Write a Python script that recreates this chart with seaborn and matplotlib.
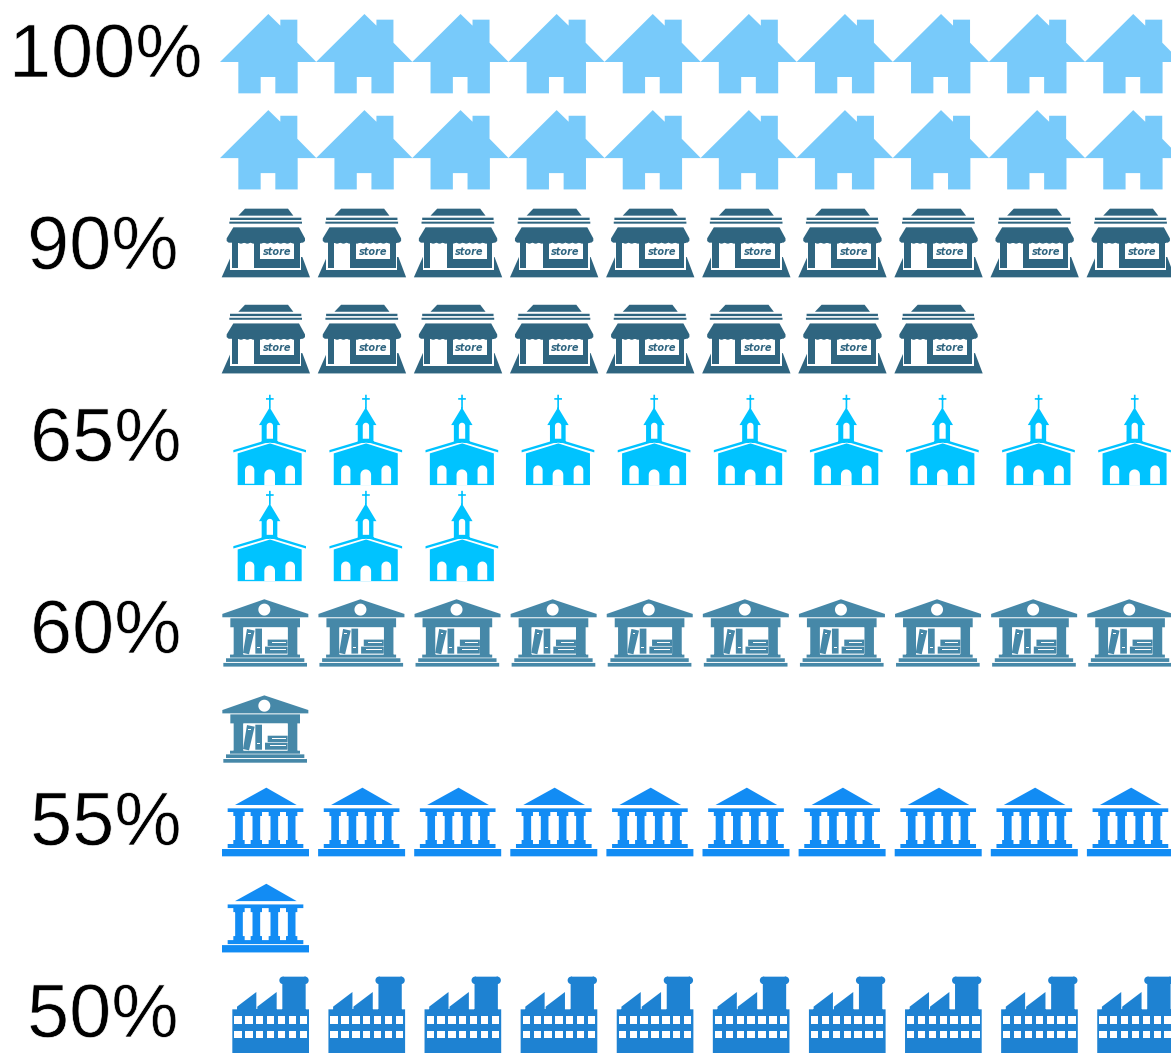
import numpy as np
import pandas as pd
import matplotlib
matplotlib.use("Agg")
import matplotlib.pyplot as plt
import matplotlib.patheffects as pe
from matplotlib.path import Path
from matplotlib.markers import MarkerStyle
import seaborn as sns

# ---------- data ----------
percent_labels = ["100%", "90%", "65%", "60%", "55%", "50%"]
icon_names = ["house", "store", "church", "library", "bank", "factory"]
icon_counts = [20, 18, 13, 11, 11, 10]
icon_colors = ["#78CAFA", "#2F6580", "#00C3FF", "#4688A8", "#128CF4", "#1E82D2"]
per_row = 10

W, H, DPI = 1171, 1053, 100
PITCH = 96.1
X0, Y0 = 268.5, 53.0
R = 60.0
LABEL_CX = [106, 103, 106, 106, 106, 103]


def poly(*pts):
    p = list(pts)
    return Path(p + [p[0]], [Path.MOVETO] + [Path.LINETO] * (len(p) - 1) + [Path.CLOSEPOLY])


def rect(x0, y0, x1, y1):
    return poly((x0, y0), (x1, y0), (x1, y1), (x0, y1))


def ellipse(cx, cy, rx, ry=None, a0=0.0, a1=360.0):
    ry = rx if ry is None else ry
    t = np.radians(np.linspace(a0, a1, 32))
    return poly(*zip(cx + rx * np.cos(t), cy + ry * np.sin(t)))


def arch(x0, x1, ytop, ybot):
    r = (x1 - x0) / 2
    t = np.radians(np.linspace(180, 360, 16))
    pts = list(zip((x0 + x1) / 2 + r * np.cos(t), ytop + r + r * np.sin(t)))
    return poly(*pts, (x1, ybot), (x0, ybot))


def marker(shapes, zx, zy):
    """Shapes are drawn in 3x-zoom coordinates, centred on (zx, zy)."""
    comp = Path.make_compound_path(*shapes)
    v = (comp.vertices - [zx, zy]) / 3.0 * [1, -1]
    anchor = np.array([[R, R], [R, R]])
    return MarkerStyle(Path(np.vstack([anchor, v]),
                            np.concatenate([[Path.MOVETO, Path.LINETO], comp.codes])))


WHITE = "#FFFFFF"
M = "main"

house = [(M, [poly((160, 27), (196, 62), (196, 44), (247, 44), (247, 113), (304, 171), (248, 171),
                   (248, 265), (181, 265), (181, 216), (137, 216), (137, 265), (70, 265), (70, 171), (15, 171))])]

scallops = [ellipse(x, 707, 10, 9) for x in
            (60, 78, 97, 116, 137, 157, 177, 197, 217, 237, 250)]
store = [
    (M, [poly((47, 756), (262, 756), (285, 817), (20, 817))]),
    (WHITE, [rect(46, 745, 259, 794)]),
    (M, [rect(50, 705, 254, 790)]),
    (WHITE, [rect(69, 708, 118, 790), rect(136, 708, 238, 762)]),
    (M, [poly((90, 611), (219, 611), (235, 632), (70, 632)),
         rect(45, 638, 259, 645), rect(43, 650, 261, 656),
         poly((55, 667), (252, 667), (270, 700), (270, 708), (264, 713), (41, 713), (35, 708), (35, 700)),
         *scallops]),
]

church = [
    (M, [rect(162, 14, 167, 55), rect(153, 24, 176, 29),
         poly((164, 52), (196, 105), (187, 105), (187, 158), (140, 158), (140, 105), (132, 105)),
         poly((55, 180), (165, 147), (273, 180), (273, 187), (165, 155), (55, 187)),
         poly((68, 190), (165, 160), (260, 190), (260, 285), (68, 285))]),
    (WHITE, [arch(155, 174, 98, 146), arch(90, 118, 226, 281), arch(211, 240, 226, 281),
             arch(148, 180, 238, 285)]),
]

library = [
    (M, [poly((148, 628), (280, 672), (280, 682), (22, 682), (22, 672)),
         rect(46, 685, 255, 712), rect(56, 712, 85, 795), rect(218, 712, 247, 795),
         rect(45, 794, 255, 803), rect(33, 805, 268, 816), rect(25, 819, 276, 830)]),
    (WHITE, [ellipse(148, 659, 18), rect(85, 713, 218, 793)]),
    (M, [poly((96, 717), (119, 722), (102, 793), (84, 789)), rect(121, 716, 141, 791),
         rect(158, 749, 218, 768), rect(150, 770, 218, 791)]),
    (WHITE, [rect(172, 757, 212, 760), rect(164, 778, 212, 781), rect(127, 725, 134, 727),
             rect(126, 772, 135, 774), rect(100, 730, 107, 732)]),
]

bank_cols = []
for c in (72, 124, 178, 230):
    bank_cols += [rect(c - 11.5, 96, c + 11.5, 192), rect(c - 17, 96, c + 17, 108), rect(c - 17, 180, c + 17, 192)]
bank = [(M, [poly((154, 23), (245, 75), (60, 75)), rect(38, 85, 265, 96), *bank_cols,
             rect(38, 192, 265, 204), rect(21, 207, 282, 229)])]

factory = [
    (M, [rect(52, 688, 282, 860), poly((66, 695), (66, 680), (124, 636), (124, 695)),
         poly((127, 695), (127, 680), (185, 636), (185, 695)), rect(202, 605, 272, 690),
         rect(203, 590, 272, 612), ellipse(203, 601, 10, 11), ellipse(271, 601, 10, 11)]),
    (WHITE, [rect(58 + 32.6 * k, y, 80 + 32.6 * k, y + 22) for k in range(7) for y in (709, 752)]),
]

centres = {"house": (160.5, 144), "store": (160.5, 720.6), "church": (160.5, 142),
           "library": (160.5, 719), "bank": (160.5, 125.4), "factory": (160.5, 702)}
shapes = {"house": house, "store": store, "church": church,
          "library": library, "bank": bank, "factory": factory}

# ---------- figure ----------
sns.set_theme(style="white")
plt.rcParams["font.family"] = ["Liberation Sans", "DejaVu Sans"]
fig = plt.figure(figsize=(W / DPI, H / DPI), dpi=DPI)
ax = fig.add_axes([0, 0, 1, 1])

s = (2 * R * 72 / DPI) ** 2
for block, (name, count, color, label) in enumerate(zip(icon_names, icon_counts, icon_colors, percent_labels)):
    idx = np.arange(count)
    df = pd.DataFrame({"col": idx % per_row, "row": block * 2 + idx // per_row})
    for layer, shp in shapes[name]:
        sns.scatterplot(data=df, x="col", y="row", marker=marker(shp, *centres[name]), s=s,
                        color=color if layer == M else WHITE, linewidth=0, edgecolor="none",
                        legend=False, ax=ax, clip_on=True)
    if name == "store":
        for c, r in zip(df["col"], df["row"]):
            ax.text(c + 0.092, r + 0.066, "store", color=color, fontsize=7.0, fontweight="bold",
                    fontstyle="italic", family="DejaVu Sans", ha="center", va="center")
    baseline = 77 + 192.0 * block
    ax.text((LABEL_CX[block] - X0) / PITCH, (baseline - Y0) / PITCH, label,
            color="black", fontsize=54.5, ha="center", va="baseline",
            path_effects=[pe.Stroke(linewidth=0.5, foreground="white")])

ax.set_xlim(-X0 / PITCH, (W - X0) / PITCH)
ax.set_ylim((H - Y0) / PITCH, -Y0 / PITCH)
ax.axis("off")
fig.savefig("out.png", dpi=DPI, facecolor="white")
